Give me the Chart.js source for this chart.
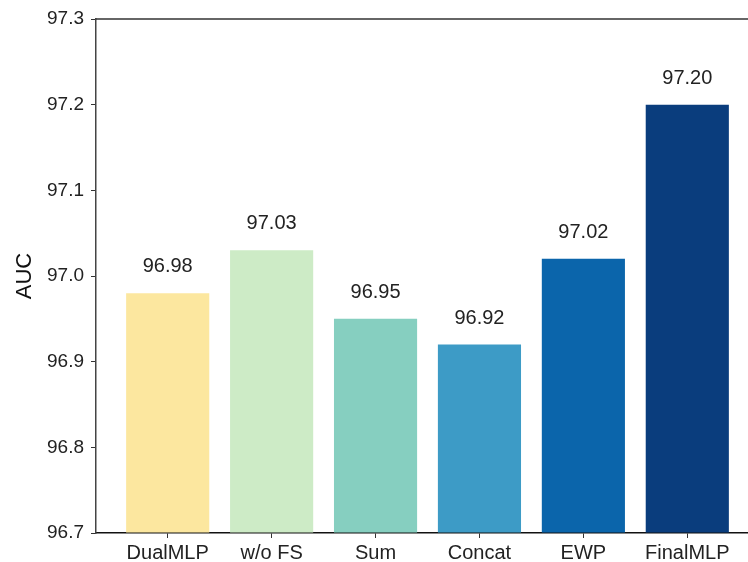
<!DOCTYPE html>
<html>
<head>
<meta charset="utf-8">
<script src="https://cdn.jsdelivr.net/npm/chart.js@4/dist/chart.umd.min.js"></script>
<style>
  html, body { margin: 0; padding: 0; background: #fff; }
  #wrap { width: 748px; height: 562px; overflow: hidden; position: relative; }
  canvas { display: block; }
</style>
</head>
<body>
<div id="wrap"><canvas id="c" width="770" height="562"></canvas></div>
<script>
// Ablation results: AUC per model variant
const categories = ['DualMLP', 'w/o FS', 'Sum', 'Concat', 'EWP', 'FinalMLP'];
const aucValues = [96.98, 97.03, 96.95, 96.92, 97.02, 97.20];
const barColors = ['#fce79f', '#cdebc6', '#86cfc0', '#3d9bc6', '#0b65ab', '#0a3d7d'];
const yTicks = [96.7, 96.8, 96.9, 97.0, 97.1, 97.2, 97.3];

const FONT = "'Liberation Sans', Arial, sans-serif";

// Value labels above each bar
const valueLabels = {
  id: 'valueLabels',
  afterDatasetsDraw(chart) {
    const ctx = chart.ctx;
    const meta = chart.getDatasetMeta(0);
    ctx.save();
    ctx.font = '20px ' + FONT;
    ctx.fillStyle = '#222';
    ctx.textAlign = 'center';
    ctx.textBaseline = 'alphabetic';
    meta.data.forEach((bar, i) => {
      ctx.fillText(aucValues[i].toFixed(2), bar.x, bar.y - 21);
    });
    ctx.restore();
  }
};

// Top frame line
const topSpine = {
  id: 'topSpine',
  afterDraw(chart) {
    const { ctx, chartArea } = chart;
    ctx.save();
    ctx.strokeStyle = '#333';
    ctx.lineWidth = 1.5;
    ctx.beginPath();
    ctx.moveTo(chartArea.left, chartArea.top);
    ctx.lineTo(chartArea.right, chartArea.top);
    ctx.stroke();
    ctx.restore();
  }
};

new Chart(document.getElementById('c'), {
  type: 'bar',
  data: {
    datasets: [{
      data: aucValues.map((v, i) => ({ x: i, y: v })),
      backgroundColor: barColors,
      base: yTicks[0],
      barPercentage: 0.8,
      categoryPercentage: 1.0
    }]
  },
  options: {
    responsive: false,
    animation: false,
    layout: { padding: { top: 19, right: 11, left: 0, bottom: 0 } },
    plugins: { legend: { display: false }, tooltip: { enabled: false } },
    scales: {
      x: {
        type: 'linear',
        offset: false,
        min: -0.69,
        max: categories.length - 1 + 0.69,
        afterBuildTicks: (s) => { s.ticks = categories.map((_, i) => ({ value: i })); },
        afterFit: (s) => { s.height = 29; },
        ticks: {
          autoSkip: false,
          maxRotation: 0,
          padding: 3,
          color: '#222',
          font: { family: FONT, size: 20 },
          callback: (v, i) => categories[i]
        },
        grid: { offset: false, drawOnChartArea: false, drawTicks: true, tickLength: 5, color: '#333' },
        border: { display: true, color: '#111', width: 1.5 }
      },
      y: {
        min: yTicks[0],
        max: yTicks[yTicks.length - 1],
        afterBuildTicks: (s) => { s.ticks = yTicks.map(v => ({ value: v })); },
        afterFit: (s) => { s.width = 96; },
        ticks: {
          padding: 7,
          color: '#222',
          font: { family: FONT, size: 19 },
          callback: (v) => Number(v).toFixed(1)
        },
        grid: { drawOnChartArea: false, drawTicks: true, tickLength: 5, color: '#333' },
        border: { display: true, color: '#444', width: 1.5 },
        title: {
          display: true,
          text: 'AUC',
          color: '#111',
          font: { family: FONT, size: 22 },
          padding: { top: 12, bottom: 0 }
        }
      }
    }
  },
  plugins: [valueLabels, topSpine]
});
</script>
</body>
</html>
